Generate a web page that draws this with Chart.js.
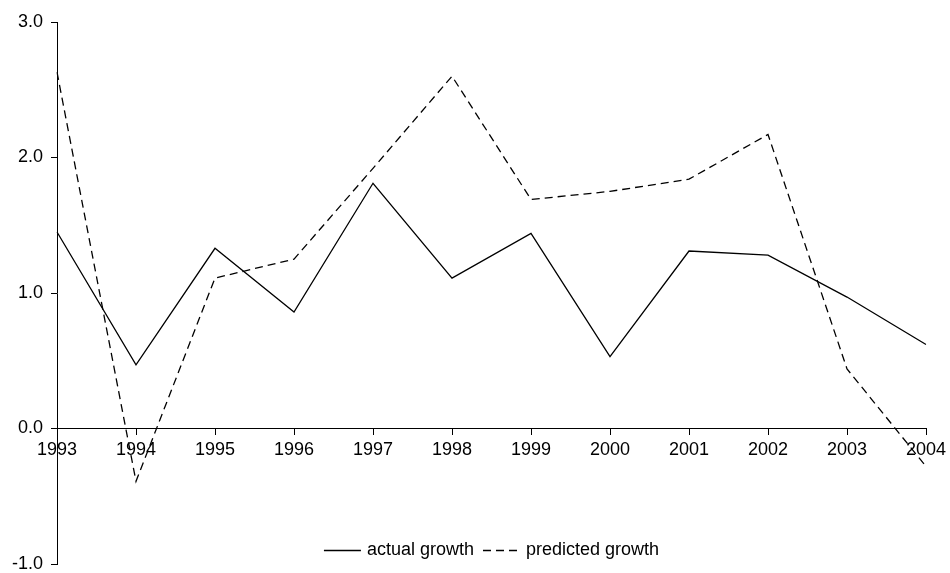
<!DOCTYPE html>
<html>
<head>
<meta charset="utf-8">
<script src="https://cdn.jsdelivr.net/npm/chart.js@4.4.0/dist/chart.umd.min.js"></script>
<style>
  html, body { margin: 0; padding: 0; background: #fff; }
</style>
</head>
<body>
<canvas id="growthChart" width="950" height="573"></canvas>
<script>
// data
const years = ['1993', '1994', '1995', '1996', '1997', '1998', '1999', '2000', '2001', '2002', '2003', '2004'];
const actualGrowth = [1.45, 0.47, 1.33, 0.86, 1.81, 1.11, 1.44, 0.53, 1.31, 1.28, 0.97, 0.62];
const predictedGrowth = [2.63, -0.39, 1.11, 1.25, 1.92, 2.60, 1.69, 1.75, 1.84, 2.17, 0.44, -0.28];
const yTicks = [-1, 0, 1, 2, 3];

const fontFamily = '"Liberation Sans", Arial, sans-serif';

// legend drawn inside the plot, under the lines
const innerLegend = {
  id: 'innerLegend',
  afterDraw(chart) {
    const ctx = chart.ctx;
    const area = chart.chartArea;
    const y = 550;
    const sample = 37, gapText = 6, gapItem = 9;
    ctx.save();
    ctx.font = '18px ' + fontFamily;
    ctx.textBaseline = 'middle';
    ctx.fillStyle = '#000';
    const items = chart.data.datasets.map(ds => ({
      text: ds.label,
      dash: ds.borderDash || [],
      w: ctx.measureText(ds.label).width
    }));
    let total = 0;
    items.forEach((it, i) => { total += sample + gapText + it.w + (i ? gapItem : 0); });
    let x = (area.left + area.right) / 2 - total / 2;
    items.forEach((it, i) => {
      if (i) x += gapItem;
      ctx.beginPath();
      ctx.setLineDash(it.dash);
      ctx.lineWidth = 1.3;
      ctx.strokeStyle = '#000';
      ctx.moveTo(x, y + 0.5);
      ctx.lineTo(x + sample, y + 0.5);
      ctx.stroke();
      ctx.setLineDash([]);
      x += sample + gapText;
      ctx.fillText(it.text, x, y);
      x += it.w;
    });
    ctx.restore();
  }
};

const ctx = document.getElementById('growthChart').getContext('2d');

const growthChart = new Chart(ctx, {
  type: 'line',
  data: {
    labels: years,
    datasets: [{
      label: 'actual growth',
      data: actualGrowth,
      borderColor: '#000',
      borderWidth: 1.3,
      pointRadius: 0,
      tension: 0,
      fill: false
    }, {
      label: 'predicted growth',
      data: predictedGrowth,
      borderColor: '#000',
      borderWidth: 1.3,
      borderDash: [8, 5],
      pointRadius: 0,
      tension: 0,
      fill: false
    }]
  },
  options: {
    responsive: false,
    animation: false,
    devicePixelRatio: 1,
    layout: { padding: { top: 22, right: 24, bottom: 9, left: 0 } },
    plugins: {
      legend: { display: false },
      tooltip: { enabled: false }
    },
    scales: {
      x: {
        type: 'category',
        position: { y: 0 },
        offset: false,
        afterFit: (s) => { s.height = 0; s.paddingLeft = 0; s.paddingRight = 0; },
        grid: { drawOnChartArea: false, drawTicks: true, tickLength: 6, color: '#000', lineWidth: 1 },
        border: { display: true, color: '#000', width: 1 },
        ticks: {
          color: '#000',
          font: { family: fontFamily, size: 18 },
          maxRotation: 0,
          autoSkip: false,
          padding: 5
        }
      },
      y: {
        position: 'left',
        min: yTicks[0],
        max: yTicks[yTicks.length - 1],
        afterFit: (s) => { s.width = 57; s.paddingTop = 0; s.paddingBottom = 0; },
        afterBuildTicks: (s) => { s.ticks = yTicks.map(v => ({ value: v })); },
        grid: { drawOnChartArea: false, drawTicks: true, tickLength: 6, color: '#000', lineWidth: 1 },
        border: { display: true, color: '#000', width: 1 },
        ticks: {
          color: '#000',
          font: { family: fontFamily, size: 18 },
          padding: 8,
          callback: (v) => Number(v).toFixed(1)
        }
      }
    }
  },
  plugins: [innerLegend]
});
</script>
</body>
</html>
